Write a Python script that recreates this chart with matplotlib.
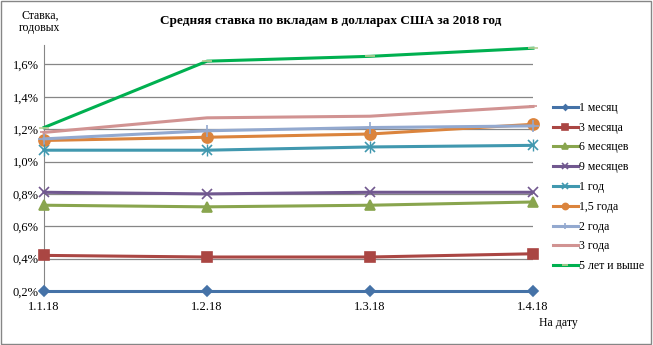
import matplotlib.pyplot as plt
from matplotlib.patches import Rectangle
from matplotlib.ticker import FuncFormatter

plt.rcParams['font.family'] = ['Liberation Serif', 'DejaVu Serif']

dates = ["1.1.18", "1.2.18", "1.3.18", "1.4.18"]
labels = ["1 месяц", "3 месяца", "6 месяцев", "9 месяцев", "1 год",
          "1,5 года", "2 года", "3 года", "5 лет и выше"]

m1 = [0.20, 0.20, 0.20, 0.20]
m3 = [0.42, 0.41, 0.41, 0.43]
m6 = [0.73, 0.72, 0.73, 0.75]
m9 = [0.81, 0.80, 0.81, 0.81]
y1 = [1.07, 1.07, 1.09, 1.10]
y15 = [1.13, 1.15, 1.17, 1.23]
y2 = [1.14, 1.19, 1.21, 1.22]
y3 = [1.18, 1.27, 1.28, 1.34]
y5 = [1.21, 1.62, 1.65, 1.70]

series = [m1, m3, m6, m9, y1, y15, y2, y3, y5]
colors = ["#4572A7", "#AA4643", "#89A54E", "#71588F", "#4198AF",
          "#DB843D", "#93A9CF", "#D19392", "#00B050"]
markers = ["D", "s", "^", "x", "x", "o", "+", "_", "_"]
msizes = [5, 7, 7, 7, 7, 8, 9, 6, 7]
mfc = colors[:8] + ["#B9CD96"]

fig = plt.figure(figsize=(6.53, 3.45), dpi=100)
ax = fig.add_axes([44 / 653, (345 - 291) / 345, (533 - 44) / 653, (291 - 45) / 345])

x = list(range(len(dates)))
for s, lab, c, mk, ms, fc in zip(series, labels, colors, markers, msizes, mfc):
    ax.plot(x, s, color=c, lw=2.2, marker=mk, markersize=ms, markerfacecolor=fc,
            markeredgecolor=fc, markeredgewidth=1.2, label=lab, clip_on=False, zorder=3)
# asterisk look for "1 год"
ax.plot(x, y1, color=colors[4], lw=0, marker="|", markersize=8, markeredgewidth=1.0,
        clip_on=False, zorder=3)

ax.set_xlim(0, 3)
ax.set_ylim(0.2, 1.72)
ax.set_yticks([0.2, 0.4, 0.6, 0.8, 1.0, 1.2, 1.4, 1.6])
ax.yaxis.set_major_formatter(FuncFormatter(lambda v, p: f"{v:.1f}%".replace(".", ",")))
ax.set_xticks(x)
ax.set_xticklabels(dates)
ax.grid(axis="y", color="#868686", lw=0.9)
ax.set_axisbelow(True)
for sp in ["top", "right", "bottom"]:
    ax.spines[sp].set_visible(False)
ax.spines["left"].set_color("#868686")
ax.tick_params(axis="both", length=0, labelsize=9)
ax.tick_params(axis="y", pad=4)
ax.tick_params(axis="x", pad=7)

fig.text(0.506, 0.94, "Средняя ставка по вкладам в долларах США за 2018 год",
         ha="center", va="center", fontsize=9.5, fontweight="bold")
fig.text(40 / 653, 1 - 22 / 345, "Ставка,\nгодовых", ha="center", va="center",
         fontsize=8.5, linespacing=1.1)
fig.text(558 / 653, 1 - 323 / 345, "На дату", ha="center", va="center", fontsize=8.5)

ax.legend(loc="upper left", bbox_to_anchor=(547 / 653, 1 - 96 / 345),
          bbox_transform=fig.transFigure, frameon=False, fontsize=8.5,
          handlelength=2.1, handletextpad=0.15, labelspacing=0.66, markerscale=0.55,
          borderpad=0)

fig.patches.append(Rectangle((0.002, 0.003), 0.995, 0.994, transform=fig.transFigure,
                             fill=False, edgecolor="#868686", lw=1))
fig.savefig("out.png", dpi=100)
